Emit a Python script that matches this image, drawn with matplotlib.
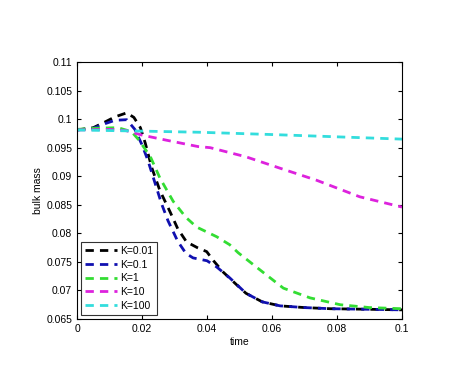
import numpy as np
import matplotlib

matplotlib.use("Agg")
import matplotlib.pyplot as plt
from matplotlib.ticker import FuncFormatter

# values
t_k001 = [0, 0.005, 0.0086, 0.0117, 0.0153, 0.0175, 0.0195, 0.021, 0.023, 0.0255, 0.0286, 0.031,
          0.0337, 0.037, 0.0399, 0.042, 0.045, 0.0491, 0.052, 0.057, 0.0625, 0.07, 0.078, 0.09, 0.1]
m_k001 = [0.0981, 0.0985, 0.0995, 0.1004, 0.1011, 0.1003, 0.0985, 0.0958, 0.0915, 0.0875, 0.0838, 0.0808,
          0.0785, 0.0775, 0.0768, 0.0752, 0.0732, 0.0710, 0.0695, 0.068, 0.0673, 0.0670, 0.0668, 0.0667, 0.0666]

t_k01 = [0, 0.005, 0.0086, 0.0117, 0.0153, 0.0178, 0.020, 0.0218, 0.0234, 0.026, 0.028, 0.031,
         0.0335, 0.0357, 0.040, 0.043, 0.047, 0.052, 0.057, 0.0625, 0.07, 0.078, 0.09, 0.1]
m_k01 = [0.0981, 0.0984, 0.0992, 0.0998, 0.0999, 0.0982, 0.0955, 0.0928, 0.0899, 0.0852, 0.0822, 0.0786,
         0.0765, 0.0757, 0.0752, 0.0741, 0.0722, 0.0695, 0.068, 0.0673, 0.0670, 0.0668, 0.0667, 0.0666]

t_k1 = [0, 0.005, 0.0126, 0.0168, 0.0188, 0.0225, 0.0255, 0.0296, 0.0335, 0.0368, 0.043,
        0.047, 0.0496, 0.0572, 0.0635, 0.0717, 0.081, 0.09, 0.1]
m_k1 = [0.0982, 0.0984, 0.0985, 0.0978, 0.0965, 0.0935, 0.0897, 0.0856, 0.0828, 0.0811, 0.0794,
        0.078, 0.0766, 0.0732, 0.0704, 0.0687, 0.0675, 0.0670, 0.0668]

t_k10 = [0, 0.01, 0.015, 0.02, 0.0276, 0.0372, 0.041, 0.052, 0.0625, 0.0737, 0.087, 0.1]
m_k10 = [0.0981, 0.0982, 0.0980, 0.0972, 0.0963, 0.0952, 0.0950, 0.0934, 0.0914, 0.0893, 0.0864, 0.0846]

t_k100 = [0, 0.02, 0.0378, 0.06, 0.08, 0.1]
m_k100 = [0.0981, 0.0979, 0.0977, 0.0973, 0.0969, 0.0965]

labels = ["K=0.01", "K=0.1", "K=1", "K=10", "K=100"]
colors = ["black", "#1010b0", "#33dd33", "#dd22dd", "#33dddd"]

xticks = [0, 0.02, 0.04, 0.06, 0.08, 0.1]
yticks = np.arange(0.065, 0.1101, 0.005)

plt.rcParams["font.family"] = ["Liberation Sans", "DejaVu Sans"]
fig = plt.figure(figsize=(4.59, 3.67), dpi=100)
ax = fig.add_axes([0.1678, 0.1308, 0.708, 0.7002])

series = [(t_k001, m_k001), (t_k01, m_k01), (t_k1, m_k1), (t_k10, m_k10), (t_k100, m_k100)]
for (t, m), c, lab in zip(series, colors, labels):
    ax.plot(t, m, color=c, lw=2, ls=(0, (3, 2.2)), label=lab)

ax.set_xlim(0, 0.1)
ax.set_ylim(0.065, 0.11)
ax.set_xticks(xticks)
ax.set_yticks(yticks)
fmt = FuncFormatter(lambda v, p: f"{v:.3f}".rstrip("0").rstrip("."))
ax.xaxis.set_major_formatter(fmt)
ax.yaxis.set_major_formatter(fmt)
ax.tick_params(direction="in", top=True, right=True, labelsize=7.5, length=3, width=0.8)
for s in ax.spines.values():
    s.set_linewidth(0.8)

ax.set_xlabel("time", fontsize=7.5, labelpad=2)
ax.set_ylabel("bulk mass", fontsize=7.5, labelpad=2)

leg = ax.legend(loc="lower left", fontsize=7.5, frameon=True, fancybox=False,
                edgecolor="black", handlelength=3, borderaxespad=0.4,
                labelspacing=0.35, handletextpad=0.3, borderpad=0.4)
leg.get_frame().set_linewidth(0.8)

fig.savefig("out.png", dpi=100)
